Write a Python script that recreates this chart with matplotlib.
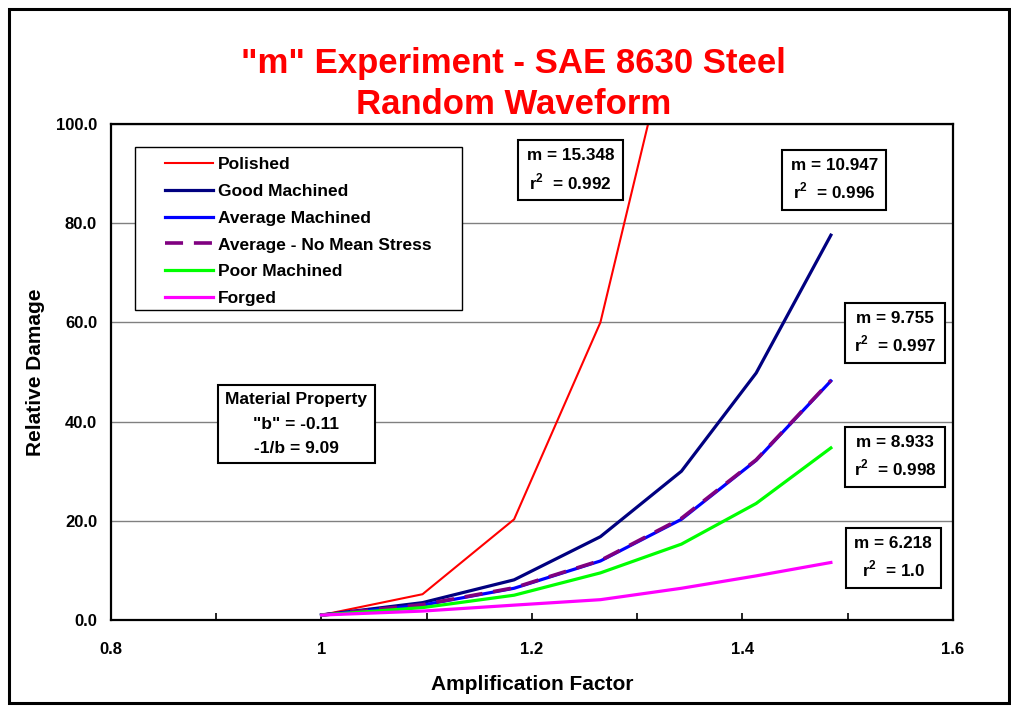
import matplotlib
matplotlib.use("Agg")
import matplotlib.pyplot as plt
from matplotlib.patches import Rectangle
from matplotlib.ticker import MultipleLocator

plt.rcParams['font.family'] = ['Liberation Sans', 'DejaVu Sans']
plt.rcParams['font.weight'] = 'bold'
plt.rcParams['mathtext.fontset'] = 'custom'
plt.rcParams['mathtext.rm'] = 'Liberation Sans:bold'
plt.rcParams['mathtext.bf'] = 'Liberation Sans:bold'

# amplification factors applied to the random load history
amp = [1.0, 1.096, 1.183, 1.265, 1.342, 1.413, 1.484]

# relative damage per surface condition
polished = [1.0, 5.2, 20.3, 60.0, 128.0]
good_machined = [1.0, 3.5, 8.1, 16.8, 30.0, 49.8, 77.6]
avg_machined = [1.0, 3.0, 6.4, 11.9, 20.3, 32.2, 48.2]
avg_no_mean = [1.0, 3.1, 6.5, 12.0, 20.5, 32.3, 48.3]
poor_machined = [1.0, 2.5, 5.0, 9.5, 15.3, 23.5, 34.7]
forged = [1.0, 1.8, 3.0, 4.1, 6.4, 8.9, 11.6]

# fitted exponent and r^2 for each curve
fit_m = ['15.348', '10.947', '9.755', '8.933', '6.218']
fit_r2 = ['0.992', '0.996', '0.997', '0.998', '1.0']

x_ticks = [0.8, 1.0, 1.2, 1.4, 1.6]
x_labels = ['0.8', '1', '1.2', '1.4', '1.6']
y_ticks = [0, 20, 40, 60, 80, 100]

fig = plt.figure(figsize=(10.11, 7.06), dpi=100)
ax = fig.add_axes([0.1098, 0.1218, 0.8328, 0.7025])

ax.plot(amp[:len(polished)], polished, color='#FF0000', lw=1.5, label='Polished')
ax.plot(amp, good_machined, color='#000080', lw=2.3, label='Good Machined')
ax.plot(amp, avg_machined, color='#0000FF', lw=2.3, label='Average Machined')
ax.plot(amp, avg_no_mean, color='#800080', lw=2.6, dashes=(5, 3),
        label='Average - No Mean Stress')
ax.plot(amp, poor_machined, color='#00FF00', lw=2.3, label='Poor Machined')
ax.plot(amp, forged, color='#FF00FF', lw=2.3, label='Forged')

ax.set_xlim(0.8, 1.6)
ax.set_ylim(0, 100)
ax.set_xticks(x_ticks)
ax.set_xticklabels(x_labels)
ax.xaxis.set_minor_locator(MultipleLocator(0.1))
ax.set_yticks(y_ticks)
ax.set_yticklabels(['%.1f' % v for v in y_ticks])
ax.tick_params(axis='x', which='both', direction='in', length=5, width=1.2,
               pad=16, labelsize=12)
ax.tick_params(axis='y', length=0, pad=10, labelsize=12)
ax.grid(axis='y', color='#808080', lw=1)
ax.set_axisbelow(True)
for s in ax.spines.values():
    s.set_linewidth(1.6)

ax.set_xlabel('Amplification Factor', fontsize=15, fontweight='bold', labelpad=13)
ax.set_ylabel('Relative Damage', fontsize=15, fontweight='bold', labelpad=8)

# legend with its own frame
ax.add_patch(Rectangle((0.0285, 0.625), 0.3884, 0.3286, transform=ax.transAxes,
                       facecolor='white', edgecolor='black', lw=1, zorder=4))
leg = ax.legend(loc='upper left', bbox_to_anchor=(0.0641, 0.9335), frameon=False,
                borderaxespad=0, borderpad=0, handlelength=2.75, handletextpad=0.3,
                labelspacing=0.67, fontsize=12.5)
leg.set_zorder(5)

fit_box = dict(boxstyle='square,pad=0.5', facecolor='white', edgecolor='black', lw=1.5)
fit_pos = [(0.546, 0.907), (0.859, 0.887), (0.931, 0.579), (0.931, 0.329), (0.929, 0.125)]
for (x, y), m, r2 in zip(fit_pos, fit_m, fit_r2):
    ax.text(x, y, 'm = %s\nr$^2$  = %s' % (m, r2), transform=ax.transAxes,
            ha='center', va='center', multialignment='center', fontsize=12.3,
            linespacing=1.45, bbox=fit_box, zorder=6)

mat_box = dict(boxstyle='square,pad=0.42', facecolor='white', edgecolor='black', lw=1.5)
ax.text(0.220, 0.395, 'Material Property\n"b" = -0.11\n-1/b = 9.09',
        transform=ax.transAxes, ha='center', va='center', multialignment='center',
        fontsize=12.5, linespacing=1.78, bbox=mat_box, zorder=6)

fig.text(0.508, 0.881, '"m" Experiment - SAE 8630 Steel\nRandom Waveform',
         ha='center', va='center', color='#FF0000', fontsize=25, fontweight='bold',
         linespacing=1.3)

fig.patches.append(Rectangle((9 / 1011, 3 / 706), 1000 / 1011, 694 / 706,
                             transform=fig.transFigure, fill=False,
                             edgecolor='black', lw=2.2))

fig.savefig('out.png', dpi=100)
